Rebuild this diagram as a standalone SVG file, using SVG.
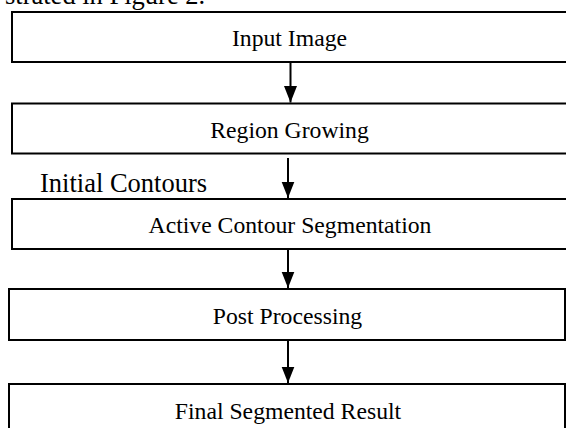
<svg xmlns="http://www.w3.org/2000/svg" width="566" height="428" viewBox="0 0 566 428">
<style>
.box{fill:#fff;stroke:#000;stroke-width:2}
.t{font-family:"Liberation Serif","Times New Roman",serif;font-size:23.7px;fill:#000;text-anchor:middle}
.b{font-family:"Liberation Serif","Times New Roman",serif;font-size:26.5px;fill:#000}
.c{stroke:#000;stroke-width:2;fill:none}
</style>
<defs>
<marker id="ah" viewBox="0 0 13 16" refX="13" refY="6.5" markerWidth="13" markerHeight="16" markerUnits="userSpaceOnUse" orient="auto">
<path d="M0,0 L16,6.5 L0,13 Z" fill="#000"/>
</marker>
<marker id="a" markerUnits="userSpaceOnUse" markerWidth="14" markerHeight="17" refX="7" refY="16.5" orient="0" viewBox="0 0 14 17">
<path d="M0.5,0 L13.5,0 L7,16.5 Z" fill="#000"/>
</marker>
</defs>
<text class="b" x="5" y="4">strated in Figure 2.</text>
<g id="n1"><rect class="box" x="12" y="12" width="600" height="50"/><text class="t" x="289.5" y="46">Input Image</text></g>
<g id="n2"><rect class="box" x="12" y="103.5" width="600" height="50"/><text class="t" x="289.5" y="137.5">Region Growing</text></g>
<g id="n3"><rect class="box" x="12" y="199" width="600" height="50"/><text class="t" x="290" y="233">Active Contour Segmentation</text></g>
<g id="n4"><rect class="box" x="9" y="289" width="556" height="51"/><text class="t" x="287.5" y="323.5">Post Processing</text></g>
<g id="n5"><rect class="box" x="9" y="384" width="556" height="60"/><text class="t" x="288" y="418.5">Final Segmented Result</text></g>
<g id="connectors">
<line class="c" x1="290.5" y1="62" x2="290.5" y2="102.5" marker-end="url(#a)"/>
<line class="c" x1="288" y1="158" x2="288" y2="198" marker-end="url(#a)"/>
<line class="c" x1="288" y1="249" x2="288" y2="288" marker-end="url(#a)"/>
<line class="c" x1="288" y1="340" x2="288" y2="383" marker-end="url(#a)"/>
<text class="b" x="40" y="191.5">Initial Contours</text>
</g>
</svg>
